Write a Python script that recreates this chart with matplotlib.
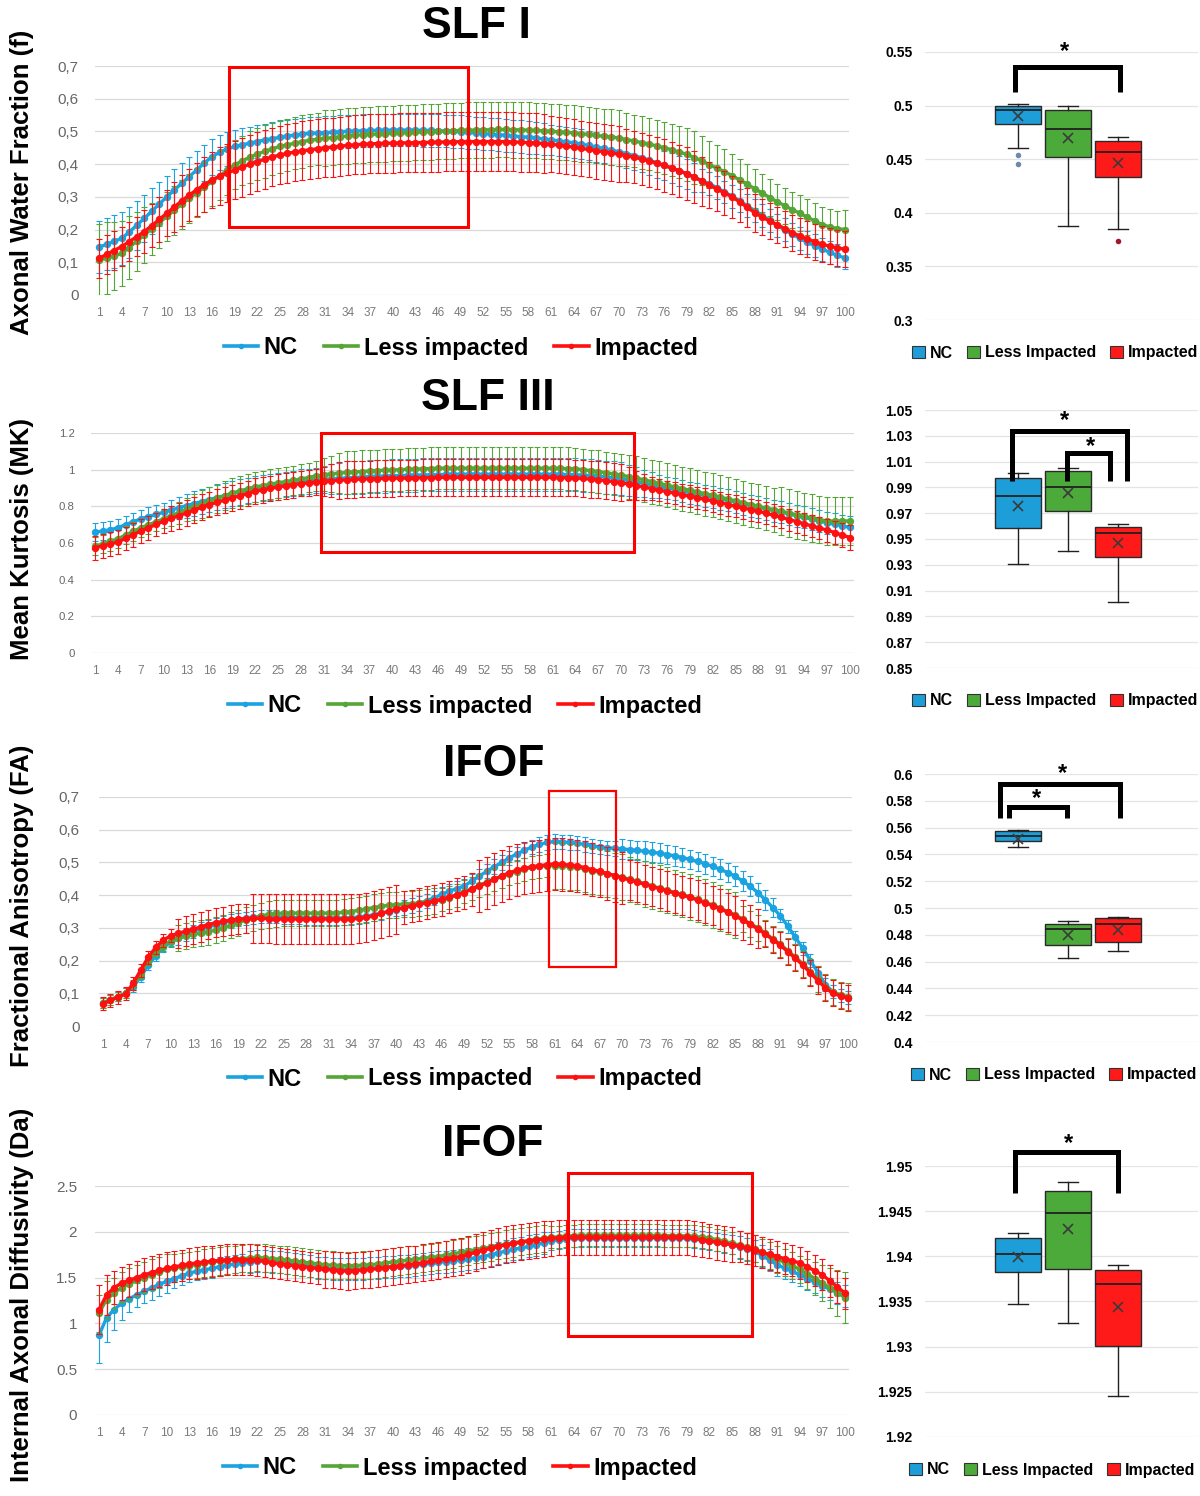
import matplotlib
matplotlib.use('Agg')
import matplotlib.pyplot as plt
from matplotlib.lines import Line2D
from matplotlib.patches import Patch, Rectangle

plt.rcParams['font.family'] = ['Liberation Sans', 'DejaVu Sans']

# ---------------- data ----------------
points = list(range(1, 101))
xtick_vals = list(range(1, 101, 3))
series_names = ['NC', 'Less impacted', 'Impacted']
box_names = ['NC', 'Less Impacted', 'Impacted']

# SLF I - Axonal Water Fraction
slf1_nc = [.146,.155,.164,.173,.192,.213,.234,.256,.278,.300,
           .321,.342,.362,.383,.404,.423,.436,.446,.454,.459,
           .464,.469,.474,.478,.482,.486,.489,.492,.494,.495,
           .496,.498,.499,.500,.501,.502,.503,.503,.504,.504,
           .504,.504,.504,.503,.503,.502,.501,.500,.499,.497,
           .495,.493,.492,.490,.488,.486,.484,.482,.480,.477,
           .474,.471,.468,.465,.461,.457,.452,.448,.443,.438,
           .432,.426,.420,.412,.404,.396,.388,.379,.370,.360,
           .350,.340,.328,.315,.302,.288,.273,.258,.243,.228,
           .213,.199,.186,.173,.161,.150,.140,.130,.121,.113]
slf1_li = [.107,.112,.119,.127,.145,.164,.183,.202,.221,.240,
           .259,.278,.296,.313,.330,.347,.364,.381,.398,.410,
           .421,.431,.439,.447,.454,.459,.464,.469,.473,.476,
           .479,.481,.484,.486,.488,.490,.491,.492,.493,.494,
           .495,.496,.497,.498,.499,.500,.501,.502,.503,.504,
           .504,.505,.505,.506,.506,.505,.505,.504,.503,.502,
           .500,.499,.497,.496,.493,.491,.488,.485,.483,.480,
           .475,.471,.466,.461,.456,.450,.444,.437,.430,.420,
           .410,.398,.388,.377,.365,.352,.339,.325,.312,.298,
           .285,.273,.261,.250,.238,.226,.215,.208,.203,.200]
slf1_imp = [.112,.124,.136,.148,.163,.178,.194,.212,.231,.250,
            .269,.288,.306,.322,.337,.352,.363,.373,.382,.391,
            .400,.408,.415,.422,.428,.433,.437,.441,.444,.447,
            .450,.452,.455,.457,.459,.461,.462,.463,.464,.464,
            .465,.465,.466,.466,.467,.467,.468,.468,.469,.469,
            .469,.469,.469,.469,.469,.468,.467,.466,.465,.463,
            .461,.458,.455,.452,.448,.445,.441,.438,.434,.431,
            .426,.421,.416,.410,.403,.396,.388,.380,.371,.360,
            .348,.336,.324,.312,.300,.285,.268,.252,.238,.226,
            .215,.203,.191,.180,.171,.163,.155,.149,.144,.140]
slf1_nc_sd = [.080,.080,.080,.080,.078,.075,.072,.070,.068,.065,
              .063,.060,.060,.058,.056,.055,.053,.052,.050,.050,
              .050,.050,.050,.050,.050,.050,.050,.050,.050,.050,
              .050,.050,.050,.050,.050,.050,.050,.050,.050,.050,
              .050,.050,.050,.050,.050,.050,.050,.050,.050,.050,
              .050,.050,.050,.050,.050,.050,.050,.050,.050,.050,
              .045,.045,.045,.045,.045,.045,.045,.045,.045,.045,
              .045,.045,.045,.045,.045,.045,.045,.045,.045,.045,
              .035,.035,.035,.035,.035,.035,.035,.035,.035,.035,
              .035,.035,.035,.035,.035,.035,.035,.035,.035,.035]
slf1_li_sd = [.110,.110,.105,.100,.095,.090,.085,.080,.078,.076,
              .075,.075,.075,.075,.075,.075,.075,.075,.075,.075,
              .080,.080,.080,.080,.080,.080,.080,.080,.080,.080,
              .085,.085,.085,.085,.085,.085,.085,.085,.085,.085,
              .085,.085,.085,.085,.085,.085,.085,.085,.085,.085,
              .085,.085,.085,.085,.085,.085,.085,.085,.085,.085,
              .085,.085,.085,.085,.085,.085,.085,.085,.085,.085,
              .080,.080,.080,.080,.080,.080,.080,.080,.080,.080,
              .075,.072,.070,.068,.066,.064,.062,.060,.058,.056,
              .055,.055,.055,.055,.055,.055,.055,.055,.055,.060]
slf1_imp_sd = [.060,.060,.060,.060,.060,.060,.065,.065,.070,.070,
               .075,.078,.080,.082,.084,.086,.088,.090,.090,.090,
               .090,.090,.090,.090,.090,.090,.090,.090,.090,.090,
               .090,.090,.090,.090,.090,.090,.090,.090,.090,.090,
               .090,.090,.090,.090,.090,.090,.090,.090,.090,.090,
               .090,.090,.090,.090,.090,.090,.090,.090,.090,.090,
               .085,.085,.085,.085,.085,.085,.085,.085,.085,.085,
               .080,.080,.080,.080,.080,.080,.080,.080,.080,.080,
               .075,.070,.068,.066,.064,.062,.060,.058,.056,.055,
               .055,.055,.055,.055,.055,.055,.055,.055,.055,.055]

# SLF III - Mean Kurtosis
slf3_nc = [.660,.665,.672,.683,.700,.716,.732,.744,.756,.768,
           .780,.792,.804,.815,.826,.837,.848,.859,.870,.878,
           .887,.895,.901,.907,.913,.919,.925,.931,.936,.941,
           .946,.949,.952,.955,.957,.960,.962,.964,.965,.967,
           .968,.969,.970,.971,.972,.973,.974,.975,.975,.975,
           .975,.975,.975,.975,.975,.975,.975,.975,.975,.975,
           .975,.974,.973,.972,.970,.967,.965,.960,.955,.950,
           .942,.933,.925,.917,.908,.900,.892,.883,.875,.867,
           .858,.850,.841,.832,.823,.814,.804,.795,.786,.777,
           .768,.759,.749,.740,.730,.720,.710,.702,.693,.685]
slf3_li = [.583,.595,.609,.623,.643,.663,.683,.699,.716,.732,
           .749,.766,.783,.798,.813,.828,.843,.858,.873,.884,
           .895,.906,.913,.921,.928,.935,.942,.949,.957,.965,
           .973,.977,.981,.985,.988,.990,.993,.995,.997,.998,
           1.000,1.002,1.003,1.005,1.006,1.008,1.008,1.008,1.008,1.008,
           1.008,1.008,1.008,1.008,1.008,1.008,1.008,1.008,1.008,1.008,
           1.008,1.007,1.006,1.005,1.000,.995,.990,.983,.977,.970,
           .962,.953,.945,.935,.925,.915,.906,.897,.888,.879,
           .869,.860,.850,.840,.830,.820,.810,.800,.791,.782,
           .773,.764,.754,.745,.737,.728,.720,.720,.720,.720]
slf3_imp = [.574,.584,.595,.605,.625,.645,.665,.683,.701,.719,
            .734,.749,.764,.779,.795,.810,.822,.834,.846,.858,
            .870,.882,.890,.898,.906,.912,.918,.924,.928,.933,
            .937,.940,.942,.945,.947,.949,.950,.951,.952,.953,
            .954,.954,.955,.956,.957,.958,.958,.958,.958,.958,
            .958,.958,.958,.958,.958,.958,.958,.958,.958,.958,
            .958,.957,.956,.955,.952,.948,.945,.940,.935,.930,
            .922,.913,.905,.897,.888,.880,.872,.863,.855,.847,
            .838,.830,.820,.810,.800,.791,.782,.773,.762,.751,
            .740,.728,.717,.705,.693,.682,.670,.657,.643,.630]
slf3_nc_sd = [.050,.050,.050,.050,.050,.050,.050,.050,.050,.050,
              .055,.060,.065,.070,.070,.070,.070,.070,.070,.070,
              .070,.070,.070,.070,.070,.070,.070,.070,.070,.070,
              .075,.080,.085,.090,.090,.090,.090,.090,.090,.090,
              .090,.090,.090,.090,.090,.090,.090,.090,.090,.090,
              .090,.090,.090,.090,.090,.090,.090,.090,.090,.090,
              .090,.090,.090,.090,.090,.090,.090,.090,.090,.090,
              .085,.080,.075,.070,.065,.060,.060,.060,.060,.060,
              .060,.060,.060,.060,.060,.060,.060,.060,.060,.060,
              .060,.060,.060,.060,.060,.060,.060,.060,.060,.060]
slf3_li_sd = [.050,.050,.050,.050,.050,.050,.050,.050,.050,.050,
              .055,.060,.065,.070,.075,.080,.080,.080,.080,.080,
              .080,.080,.080,.080,.080,.080,.080,.080,.080,.080,
              .090,.100,.110,.115,.115,.115,.115,.115,.115,.115,
              .115,.115,.115,.115,.115,.115,.115,.115,.115,.115,
              .115,.115,.115,.115,.115,.115,.115,.115,.115,.115,
              .115,.115,.115,.115,.115,.115,.115,.115,.115,.115,
              .120,.120,.120,.120,.120,.120,.120,.120,.120,.120,
              .120,.120,.120,.120,.120,.120,.120,.120,.120,.120,
              .130,.130,.130,.130,.130,.130,.130,.130,.130,.130]
slf3_imp_sd = [.065,.065,.065,.065,.065,.065,.065,.065,.065,.065,
               .070,.070,.070,.070,.070,.070,.070,.070,.070,.070,
               .070,.070,.070,.070,.070,.070,.070,.070,.070,.070,
               .080,.090,.100,.100,.100,.100,.100,.100,.100,.100,
               .100,.100,.100,.100,.100,.100,.100,.100,.100,.100,
               .100,.100,.100,.100,.100,.100,.100,.100,.100,.100,
               .100,.100,.100,.100,.100,.100,.100,.100,.100,.100,
               .090,.080,.070,.065,.060,.060,.060,.060,.060,.060,
               .060,.060,.060,.060,.060,.060,.060,.060,.060,.060,
               .060,.060,.060,.060,.060,.060,.062,.064,.066,.066]

# IFOF - Fractional Anisotropy
fa_nc = [.070,.080,.090,.100,.120,.150,.185,.215,.240,.256,
         .268,.280,.290,.297,.304,.310,.316,.321,.325,.330,
         .333,.335,.335,.334,.333,.332,.331,.330,.330,.330,
         .330,.330,.330,.331,.333,.336,.340,.345,.350,.356,
         .362,.368,.375,.383,.392,.402,.412,.420,.428,.443,
         .458,.473,.487,.500,.514,.526,.537,.547,.555,.561,
         .564,.563,.561,.559,.555,.551,.547,.545,.543,.541,
         .539,.537,.534,.531,.528,.524,.520,.515,.509,.503,
         .496,.488,.479,.469,.458,.443,.427,.408,.386,.362,
         .337,.305,.271,.237,.200,.163,.126,.105,.093,.086]
fa_li = [.070,.080,.090,.100,.125,.160,.200,.225,.245,.260,
         .268,.274,.280,.284,.288,.293,.300,.308,.316,.324,
         .331,.337,.341,.344,.345,.345,.345,.345,.345,.345,
         .345,.346,.348,.350,.354,.358,.362,.366,.369,.371,
         .373,.374,.376,.379,.382,.386,.392,.400,.410,.420,
         .430,.440,.448,.457,.465,.472,.479,.485,.488,.490,
         .490,.489,.487,.485,.480,.475,.470,.465,.460,.455,
         .448,.442,.435,.428,.421,.415,.408,.402,.395,.387,
         .378,.370,.360,.350,.340,.327,.313,.300,.284,.267,
         .250,.230,.210,.190,.166,.143,.120,.105,.095,.090]
fa_imp = [.068,.078,.088,.098,.130,.170,.210,.240,.262,.276,
          .283,.290,.296,.303,.310,.316,.320,.324,.327,.328,
          .329,.329,.328,.327,.327,.327,.327,.327,.327,.327,
          .327,.327,.327,.327,.329,.332,.337,.344,.351,.357,
          .362,.367,.372,.377,.382,.387,.394,.401,.408,.418,
          .428,.438,.449,.459,.469,.476,.482,.487,.490,.493,
          .496,.494,.492,.490,.484,.478,.473,.466,.460,.453,
          .446,.440,.433,.426,.420,.413,.406,.400,.393,.385,
          .376,.368,.358,.348,.337,.324,.311,.297,.281,.264,
          .247,.227,.207,.186,.162,.139,.116,.100,.092,.086]
fa_nc_sd = [.015,.015,.015,.015,.015,.015,.015,.015,.015,.015,
            .020,.020,.020,.020,.020,.020,.020,.020,.020,.020,
            .020,.020,.020,.020,.020,.020,.020,.020,.020,.020,
            .020,.020,.020,.020,.020,.020,.020,.020,.020,.020,
            .022,.022,.022,.022,.022,.022,.022,.022,.022,.022,
            .022,.022,.022,.022,.022,.022,.022,.022,.022,.022,
            .022,.022,.022,.022,.022,.022,.022,.022,.022,.030,
            .030,.030,.030,.030,.030,.030,.030,.030,.030,.030,
            .030,.030,.030,.030,.030,.030,.030,.030,.030,.030,
            .020,.020,.020,.020,.020,.020,.020,.020,.020,.020]
fa_li_sd = [.015,.015,.015,.015,.015,.015,.015,.015,.015,.015,
            .040,.040,.040,.040,.040,.040,.040,.040,.040,.040,
            .040,.040,.040,.040,.040,.040,.040,.040,.040,.040,
            .040,.040,.040,.040,.040,.040,.040,.040,.040,.040,
            .040,.040,.040,.040,.040,.035,.035,.035,.035,.035,
            .035,.035,.035,.035,.035,.035,.035,.035,.035,.035,
            .070,.070,.070,.070,.070,.070,.070,.070,.070,.070,
            .070,.070,.070,.070,.070,.070,.070,.070,.070,.070,
            .070,.070,.070,.070,.070,.040,.040,.040,.040,.040,
            .040,.040,.040,.040,.040,.040,.040,.040,.040,.040]
fa_imp_sd = [.020,.020,.020,.020,.020,.020,.020,.020,.020,.020,
             .045,.045,.045,.045,.045,.045,.045,.045,.045,.045,
             .075,.075,.075,.075,.075,.075,.075,.075,.075,.075,
             .075,.075,.075,.075,.075,.075,.075,.075,.075,.075,
             .050,.050,.050,.050,.050,.050,.050,.050,.050,.050,
             .080,.080,.080,.080,.080,.080,.080,.080,.080,.080,
             .080,.080,.080,.080,.080,.080,.080,.080,.080,.080,
             .060,.060,.060,.060,.060,.060,.060,.060,.060,.060,
             .060,.060,.060,.060,.060,.060,.060,.060,.040,.040,
             .040,.040,.040,.040,.040,.040,.040,.040,.040,.040]

# IFOF - Internal Axonal Diffusivity
da_nc = [.870,1.060,1.150,1.220,1.270,1.310,1.350,1.390,1.425,1.460,
         1.490,1.520,1.550,1.570,1.585,1.600,1.620,1.635,1.650,1.660,
         1.670,1.680,1.680,1.675,1.670,1.660,1.650,1.640,1.625,1.610,
         1.600,1.595,1.590,1.590,1.590,1.595,1.600,1.607,1.613,1.615,
         1.622,1.630,1.637,1.645,1.655,1.665,1.675,1.683,1.690,1.703,
         1.717,1.730,1.750,1.770,1.790,1.807,1.823,1.840,1.860,1.880,
         1.900,1.910,1.920,1.930,1.932,1.934,1.935,1.935,1.935,1.935,
         1.935,1.935,1.935,1.935,1.934,1.933,1.932,1.931,1.930,1.920,
         1.910,1.900,1.887,1.873,1.860,1.837,1.813,1.790,1.740,1.690,
         1.640,1.603,1.567,1.530,1.490,1.450,1.410,1.373,1.337,1.300]
da_li = [1.110,1.260,1.330,1.390,1.430,1.470,1.500,1.530,1.560,1.590,
         1.603,1.617,1.630,1.643,1.657,1.670,1.680,1.690,1.700,1.707,
         1.713,1.720,1.713,1.707,1.700,1.690,1.680,1.670,1.660,1.650,
         1.640,1.635,1.632,1.630,1.632,1.635,1.640,1.650,1.660,1.670,
         1.680,1.690,1.700,1.710,1.720,1.730,1.745,1.760,1.775,1.790,
         1.805,1.820,1.835,1.850,1.865,1.880,1.893,1.905,1.917,1.928,
         1.938,1.946,1.953,1.958,1.960,1.960,1.960,1.960,1.960,1.960,
         1.960,1.960,1.960,1.960,1.960,1.959,1.958,1.957,1.955,1.950,
         1.940,1.930,1.915,1.895,1.875,1.855,1.835,1.815,1.775,1.740,
         1.700,1.665,1.630,1.590,1.540,1.490,1.440,1.390,1.335,1.280]
da_imp = [1.150,1.310,1.390,1.440,1.470,1.500,1.530,1.555,1.580,1.600,
          1.617,1.633,1.650,1.660,1.670,1.680,1.687,1.693,1.700,1.697,
          1.693,1.690,1.677,1.663,1.650,1.640,1.630,1.620,1.610,1.600,
          1.590,1.583,1.577,1.570,1.577,1.583,1.590,1.600,1.610,1.620,
          1.630,1.640,1.650,1.663,1.677,1.690,1.703,1.717,1.730,1.753,
          1.777,1.800,1.820,1.840,1.860,1.873,1.887,1.900,1.910,1.920,
          1.930,1.935,1.938,1.940,1.940,1.940,1.940,1.940,1.940,1.940,
          1.940,1.940,1.940,1.940,1.940,1.940,1.940,1.940,1.940,1.927,
          1.913,1.900,1.887,1.873,1.860,1.840,1.820,1.800,1.777,1.753,
          1.730,1.707,1.683,1.660,1.617,1.573,1.530,1.463,1.397,1.330]
da_nc_sd = [.30,.26,.22,.18,.15,.13,.13,.13,.13,.13,
            .10,.10,.10,.10,.10,.10,.10,.10,.10,.10,
            .12,.12,.12,.12,.12,.12,.12,.12,.12,.12,
            .12,.12,.12,.12,.12,.12,.12,.12,.12,.12,
            .12,.12,.12,.12,.12,.12,.12,.12,.12,.12,
            .12,.12,.12,.12,.12,.12,.12,.12,.12,.12,
            .10,.10,.10,.10,.10,.10,.10,.10,.10,.10,
            .10,.10,.10,.10,.10,.10,.10,.10,.10,.10,
            .10,.10,.10,.10,.10,.12,.12,.12,.12,.12,
            .12,.12,.12,.12,.12,.12,.12,.12,.12,.12]
da_li_sd = [.20,.20,.17,.17,.17,.17,.17,.17,.17,.17,
            .15,.15,.15,.15,.15,.15,.15,.15,.15,.15,
            .15,.15,.15,.15,.15,.15,.15,.15,.15,.15,
            .15,.15,.15,.15,.15,.15,.15,.15,.15,.15,
            .15,.15,.15,.15,.15,.15,.15,.15,.15,.15,
            .15,.15,.15,.15,.15,.15,.15,.15,.15,.15,
            .12,.12,.12,.12,.12,.12,.12,.12,.12,.12,
            .12,.12,.12,.12,.12,.12,.12,.12,.12,.12,
            .12,.12,.12,.12,.12,.15,.15,.15,.15,.15,
            .15,.15,.15,.15,.16,.18,.20,.22,.25,.28]
da_imp_sd = [.27,.22,.18,.18,.18,.18,.18,.18,.18,.18,
             .17,.17,.17,.17,.17,.17,.17,.17,.17,.17,
             .17,.17,.17,.17,.17,.17,.17,.17,.17,.17,
             .20,.20,.20,.20,.20,.20,.20,.20,.20,.20,
             .20,.20,.20,.20,.20,.20,.20,.20,.20,.20,
             .20,.20,.20,.20,.20,.20,.20,.20,.20,.20,
             .19,.19,.19,.19,.19,.19,.19,.19,.19,.19,
             .19,.19,.19,.19,.19,.19,.19,.19,.19,.19,
             .19,.19,.19,.19,.19,.17,.17,.17,.17,.17,
             .17,.17,.17,.17,.17,.17,.17,.17,.17,.17]

# Box plot statistics (NC, Less Impacted, Impacted)
slf1_whislo = [.460, .3877, .3846]
slf1_q1 = [.4826, .4518, .4337]
slf1_med = [.496, .478, .457]
slf1_q3 = [.500, .496, .467]
slf1_whishi = [.5018, .500, .471]
slf1_mean = [.490, .4695, .446]
slf1_fliers = [[.4536, .4455], [], [.374]]

slf3_whislo = [.9304, .9407, .9012]
slf3_q1 = [.9583, .972, .9358]
slf3_med = [.9833, .990, .9544]
slf3_q3 = [.997, 1.0027, .959]
slf3_whishi = [1.001, 1.0053, .9614]
slf3_mean = [.9756, .9854, .9467]
slf3_fliers = [[], [], []]

fa_whislo = [.5458, .4625, .4681]
fa_q1 = [.5502, .4724, .4749]
fa_med = [.5537, .4841, .488]
fa_q3 = [.5575, .488, .4928]
fa_whishi = [.5582, .490, .4935]
fa_mean = [.5513, .4799, .4836]
fa_fliers = [[], [], []]

da_whislo = [1.9347, 1.9326, 1.9245]
da_q1 = [1.9383, 1.9386, 1.9301]
da_med = [1.9403, 1.9448, 1.9369]
da_q3 = [1.9420, 1.9472, 1.9385]
da_whishi = [1.9426, 1.9482, 1.9390]
da_mean = [1.9399, 1.943, 1.9344]
da_fliers = [[], [], []]

# ---------------- styling ----------------
W, H = 1200, 1496
C_NC, C_LI, C_IMP = '#1AA3E0', '#56A637', '#FF1010'
F_NC, F_LI, F_IMP = '#1E9ED9', '#4CAA3A', '#FF1A1A'
GRID = '#d9d9d9'
TICKC = '#7a7a7a'

fig = plt.figure(figsize=(W / 100, H / 100), dpi=100)


def rect(l, t, r, b):
    return [l / W, 1 - b / H, (r - l) / W, (b - t) / H]


def line_panel(box, nc, li, imp, nc_sd, li_sd, imp_sd, ymax, yticks, ylabels,
               yfs, ypad, redbox, red_lw, title, title_xy, ylabel, ylabel_top,
               leg_xy):
    ax = fig.add_axes(rect(*box))
    for vals, sd, col, z in ((nc, nc_sd, C_NC, 3), (li, li_sd, C_LI, 4), (imp, imp_sd, C_IMP, 5)):
        ax.errorbar(points, vals, yerr=sd, color=col, lw=2.4, marker='o', ms=4.3,
                    elinewidth=0.8, capsize=2.2, capthick=0.8, zorder=z)
    ax.set_xlim(0.5, 100.5)
    ax.set_ylim(0, ymax)
    ax.set_yticks(yticks)
    ax.set_yticklabels(ylabels, fontsize=yfs, color='#666666')
    ax.set_xticks(xtick_vals)
    ax.set_xticklabels([str(v) for v in xtick_vals], fontsize=8.5, color=TICKC)
    ax.tick_params(axis='both', length=0)
    ax.tick_params(axis='y', pad=ypad)
    ax.tick_params(axis='x', pad=9)
    for s in ax.spines.values():
        s.set_visible(False)
    ax.grid(axis='y', color=GRID, lw=0.9, zorder=0)
    ax.set_axisbelow(True)
    x0, x1, y0, y1 = redbox
    ax.add_patch(Rectangle((x0, y0), x1 - x0, y1 - y0, fill=False, ec='#FF0000',
                           lw=red_lw, zorder=10, clip_on=False))
    fig.text(title_xy[0] / W, 1 - title_xy[1] / H, title, ha='center', va='center',
             fontsize=32, fontweight='bold')
    fig.text(22 / W, 1 - ylabel_top / H, ylabel, rotation=90, ha='center', va='top',
             fontsize=18.5, fontweight='bold')
    handles = [Line2D([0], [0], color=c, lw=2.6, marker='o', ms=3) for c in (C_NC, C_LI, C_IMP)]
    ax.legend(handles, series_names, loc='center', ncol=3, frameon=False,
              bbox_to_anchor=(leg_xy[0] / W, 1 - leg_xy[1] / H),
              bbox_transform=fig.transFigure,
              prop={'weight': 'bold', 'size': 17}, handlelength=1.45,
              handletextpad=0.25, columnspacing=1.1)
    return ax


def box_panel(box, whislo, q1, med, q3, whishi, mean, fliers, ylim, yticks, ylabels,
              brackets, stars, leg_xy):
    ax = fig.add_axes(rect(*box))
    stats = []
    for i in range(3):
        stats.append(dict(whislo=whislo[i], q1=q1[i], med=med[i], q3=q3[i],
                          whishi=whishi[i], mean=mean[i], fliers=fliers[i], label=box_names[i]))
    bp = ax.bxp(stats, positions=[1, 2, 3], widths=0.92, patch_artist=True,
                showmeans=True, capwidths=0.4,
                meanprops=dict(marker='x', markeredgecolor='#3a3a3a', markersize=7,
                               markeredgewidth=1.2),
                medianprops=dict(color='#202020', lw=1.3),
                boxprops=dict(edgecolor='#2a2a2a', lw=1.0),
                whiskerprops=dict(color='#202020', lw=1.0),
                capprops=dict(color='#202020', lw=1.0),
                flierprops=dict(marker='o', ms=4, markeredgecolor='none'))
    for patch, c in zip(bp['boxes'], (F_NC, F_LI, F_IMP)):
        patch.set_facecolor(c)
    for fl, c in zip(bp['fliers'], ('#6d8aa8', '#5a8a4a', '#a0182c')):
        fl.set_markerfacecolor(c)
    ax.set_xlim(-0.86, 4.6)
    ax.set_ylim(*ylim)
    ax.set_yticks(yticks)
    ax.set_yticklabels(ylabels, fontsize=10, fontweight='bold')
    ax.set_xticks([])
    ax.tick_params(axis='y', length=0, pad=9)
    for s in ax.spines.values():
        s.set_visible(False)
    ax.grid(axis='y', color='#e4e4e4', lw=0.9, zorder=0)
    ax.set_axisbelow(True)
    for (xa, xb, yb, yt) in brackets:
        ax.plot([xa, xa, xb, xb], [yb, yt, yt, yb], color='black', lw=3.6,
                solid_joinstyle='miter', solid_capstyle='butt', clip_on=False, zorder=6)
    for (sx, sy) in stars:
        ax.text(sx, sy, '*', ha='center', va='center', fontsize=17, fontweight='bold',
                clip_on=False)
    handles = [Patch(facecolor=c, edgecolor='#333333', lw=0.8) for c in (F_NC, F_LI, F_IMP)]
    ax.legend(handles, box_names, loc='center', ncol=3, frameon=False,
              bbox_to_anchor=(leg_xy[0] / W, 1 - leg_xy[1] / H),
              bbox_transform=fig.transFigure,
              prop={'weight': 'bold', 'size': 11.5}, handlelength=0.8, handleheight=0.8,
              handletextpad=0.3, columnspacing=0.9)
    return ax


# Row 1: SLF I
line_panel((95.2, 66, 848.8, 295), slf1_nc, slf1_li, slf1_imp, slf1_nc_sd, slf1_li_sd, slf1_imp_sd,
           0.7, [0, .1, .2, .3, .4, .5, .6, .7],
           ['0', '0,1', '0,2', '0,3', '0,4', '0,5', '0,6', '0,7'], 11, 12,
           (18.3, 50.0, 0.208, 0.698), 2.2, 'SLF I', (476, 26),
           'Axonal Water Fraction (f)', 30, (461, 348))
box_panel((925, 52, 1198, 320), slf1_whislo, slf1_q1, slf1_med, slf1_q3, slf1_whishi,
          slf1_mean, slf1_fliers, (0.3, 0.55), [.3, .35, .4, .45, .5, .55],
          ['0.3', '0.35', '0.4', '0.45', '0.5', '0.55'],
          [(0.94, 3.04, 0.5127, 0.536)], [(1.94, 0.5505)], (1055, 353))

# Row 2: SLF III
line_panel((91.2, 433, 853.8, 653), slf3_nc, slf3_li, slf3_imp, slf3_nc_sd, slf3_li_sd, slf3_imp_sd,
           1.2, [0, .2, .4, .6, .8, 1.0, 1.2],
           ['0', '0.2', '0.4', '0.6', '0.8', '1', '1.2'], 8.2, 12,
           (30.6, 71.7, 0.551, 1.2), 2.2, 'SLF III', (488, 398),
           'Mean Kurtosis (MK)', 418, (465, 706))
box_panel((925, 410, 1198, 668), slf3_whislo, slf3_q1, slf3_med, slf3_q3, slf3_whishi,
          slf3_mean, slf3_fliers, (0.85, 1.05),
          [.85, .87, .89, .91, .93, .95, .97, .99, 1.01, 1.03, 1.05],
          ['0.85', '0.87', '0.89', '0.91', '0.93', '0.95', '0.97', '0.99', '1.01', '1.03', '1.05'],
          [(0.88, 3.18, 0.995, 1.0337), (1.98, 2.84, 0.995, 1.0164)],
          [(1.94, 1.042), (2.44, 1.022)], (1055, 701))

# Row 3: IFOF FA
line_panel((99.2, 797, 851.8, 1026), fa_nc, fa_li, fa_imp, fa_nc_sd, fa_li_sd, fa_imp_sd,
           0.7, [0, .1, .2, .3, .4, .5, .6, .7],
           ['0', '0,1', '0,2', '0,3', '0,4', '0,5', '0,6', '0,7'], 11, 14,
           (60.3, 69.2, 0.181, 0.717), 1.6, 'IFOF', (494, 764),
           'Fractional Anisotropy (FA)', 745, (465, 1079))
box_panel((925, 774, 1198, 1042), fa_whislo, fa_q1, fa_med, fa_q3, fa_whishi,
          fa_mean, fa_fliers, (0.4, 0.6),
          [.4, .42, .44, .46, .48, .5, .52, .54, .56, .58, .6],
          ['0.4', '0.42', '0.44', '0.46', '0.48', '0.5', '0.52', '0.54', '0.56', '0.58', '0.6'],
          [(0.64, 3.04, 0.567, 0.5925), (0.82, 1.98, 0.567, 0.5756)],
          [(1.9, 0.6005), (1.36, 0.5818)], (1054, 1075))

# Row 4: IFOF Da
line_panel((95.2, 1186, 848.8, 1415), da_nc, da_li, da_imp, da_nc_sd, da_li_sd, da_imp_sd,
           2.5, [0, .5, 1, 1.5, 2, 2.5],
           ['0', '0.5', '1', '1.5', '2', '2.5'], 11, 13,
           (63.3, 87.6, 0.862, 2.639), 2.2, 'IFOF', (493, 1144),
           'Internal Axonal Diffusivity (Da)', 1108, (460, 1468))
box_panel((925, 1166, 1198, 1437), da_whislo, da_q1, da_med, da_q3, da_whishi,
          da_mean, da_fliers, (1.92, 1.95),
          [1.92, 1.925, 1.93, 1.935, 1.94, 1.945, 1.95],
          ['1.92', '1.925', '1.93', '1.935', '1.94', '1.945', '1.95'],
          [(0.94, 3.0, 1.947, 1.9516)], [(2.0, 1.9525)], (1052, 1470))

fig.savefig('out.png', dpi=100, facecolor='white')
